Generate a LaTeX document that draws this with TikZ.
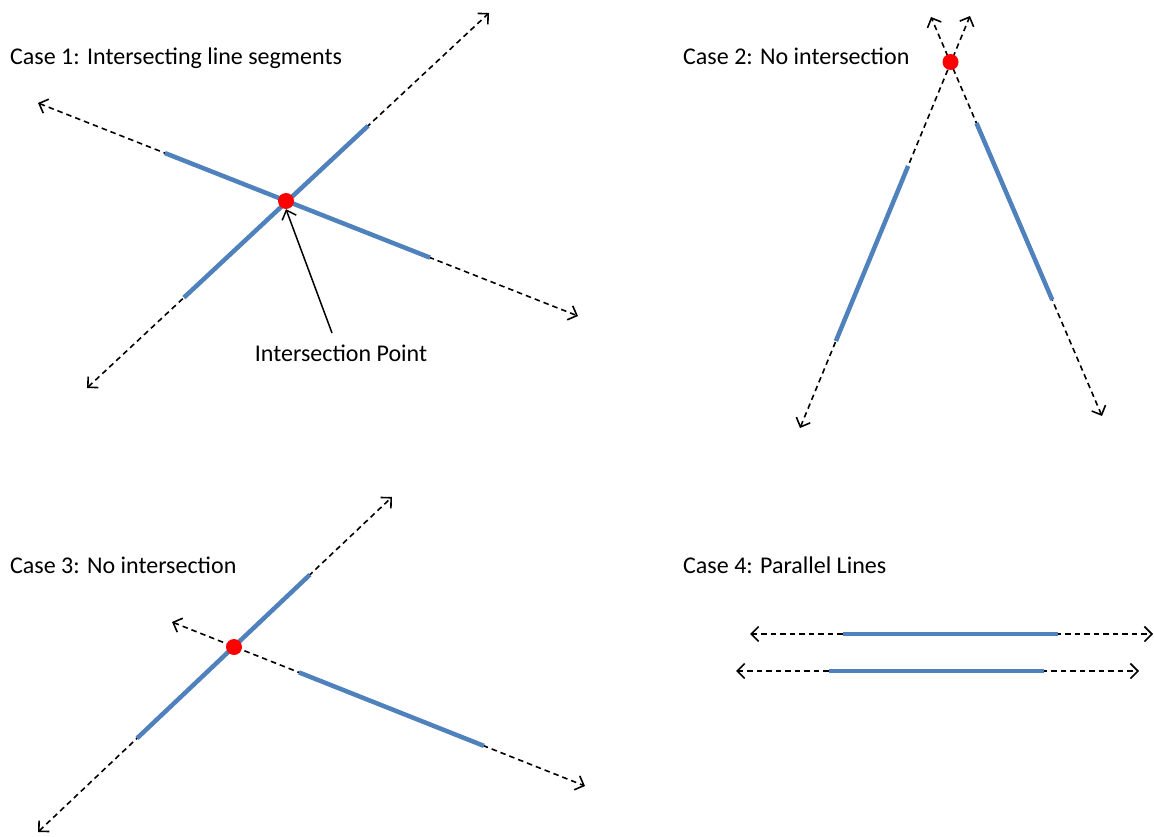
\documentclass[tikz,border=0pt]{standalone}
\usepackage{fontspec}
\setmainfont{Carlito}
\usetikzlibrary{arrows.meta,calc}
\definecolor{segblue}{RGB}{79,129,189}
\tikzset{
  ext/.style={draw=black, line width=1.6pt, dash pattern=on 5.5pt off 4pt, {Straight Barb[length=7.5pt,width=15pt,line width=1.6pt]}-{Straight Barb[length=7.5pt,width=15pt,line width=1.6pt]}},
  seg/.style={draw=segblue, line width=4.5pt},
  dot/.style={circle, fill=red, inner sep=0pt, minimum size=16pt},
  lbl/.style={font=\fontsize{24}{29}\selectfont, inner sep=0pt, anchor=base west},
  pointer/.style={draw=black, line width=1.5pt, -{Straight Barb[length=8pt,width=15pt,line width=1.5pt]}}
}
\begin{document}
\begin{tikzpicture}[x=1pt,y=-1pt]
\useasboundingbox (0,0) rectangle (1154,837);
% ---------- Case 1 ----------
\node[lbl] (t1) at (10,65) {Case 1: Intersecting line segments};
\coordinate (a1) at (87,388); \coordinate (a2) at (489,13);
\coordinate (b1) at (38,103); \coordinate (b2) at (578,316);
\draw[ext] (a1) -- (a2);
\draw[ext] (b1) -- (b2);
\draw[seg] ($(a1)!0.241!(a2)$) -- ($(a1)!0.699!(a2)$);
\draw[seg] ($(b1)!0.235!(b2)$) -- ($(b1)!0.726!(b2)$);
\node[dot] (p1) at (286,201) {};
\node[lbl, anchor=base] (ip) at (341,361) {Intersection Point};
\coordinate (ipt) at (332,333);
\draw[pointer] (ipt) -- (p1.south);
% ---------- Case 2 ----------
\node[lbl] (t2) at (683,65) {Case 2: No intersection};
\coordinate (c1) at (800,428); \coordinate (c2) at (970,16);
\coordinate (d1) at (1102,416); \coordinate (d2) at (931,17);
\draw[ext] (c1) -- (c2);
\draw[ext] (d1) -- (d2);
\draw[seg] ($(c1)!0.211!(c2)$) -- ($(c1)!0.636!(c2)$);
\draw[seg] ($(d1)!0.291!(d2)$) -- ($(d1)!0.734!(d2)$);
\node[dot] (p2) at (950.5,62) {};
% ---------- Case 3 ----------
\node[lbl] (t3) at (10,573) {Case 3: No intersection};
\coordinate (e1) at (38,832); \coordinate (e2) at (392,497);
\coordinate (f1) at (172,622); \coordinate (f2) at (585,786);
\draw[ext] (e1) -- (e2);
\draw[ext] (f1) -- (f2);
\draw[seg] ($(e1)!0.28!(e2)$) -- ($(e1)!0.768!(e2)$);
\draw[seg] ($(f1)!0.3075!(f2)$) -- ($(f1)!0.755!(f2)$);
\node[dot] (p3) at (234,647) {};
% ---------- Case 4 ----------
\node[lbl] (t4) at (683,573) {Case 4: Parallel Lines};
\coordinate (g1) at (750,634); \coordinate (g2) at (1153,634);
\coordinate (h1) at (736,671); \coordinate (h2) at (1139,671);
\draw[ext] (g1) -- (g2);
\draw[ext] (h1) -- (h2);
\draw[seg] (843,634) -- (1058,634);
\draw[seg] (829,671) -- (1044,671);
\end{tikzpicture}
\end{document}
